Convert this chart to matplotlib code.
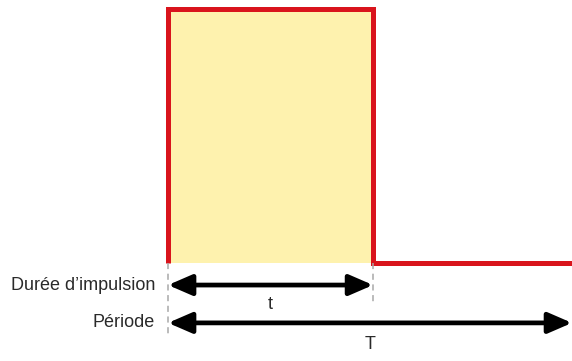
import matplotlib
matplotlib.use("Agg")
from matplotlib import pyplot as plt
from matplotlib import font_manager

# signal, in units of half the period
pulse = 1.015
period = 2.0
signal_x = [0, 0, pulse, pulse, period]
signal_y = [0, 1, 1, 0, 0]

labels = ["Durée d\u2019impulsion", "Période"]
arrow_labels = ["t", "T"]


def draw():
    names = {f.name for f in font_manager.fontManager.ttflist}
    fams = [n for n in ['Liberation Sans Narrow', 'DejaVu Sans Condensed'] if n in names]
    size = 14 if fams else 13
    plt.rcParams['font.family'] = fams + ['Liberation Sans', 'DejaVu Sans']

    fig = plt.figure(figsize=(5.72, 3.61), dpi=100)
    ax = fig.add_axes([0, 0, 1, 1])
    ax.set_xlim(-0.832, 2.0)
    ax.set_ylim(-0.386, 1.035)
    ax.axis("off")

    ax.fill_between([0, pulse], 0, 1, color="#fef2ae", lw=0)
    ax.plot(signal_x, signal_y, color="#d9141c", lw=3.6,
            solid_joinstyle="miter", solid_capstyle="butt")

    ax.plot([0, 0], [0, -0.285], color="#a8a8a8", lw=1.1, ls=(0, (4, 3)))
    ax.plot([pulse, pulse], [0, -0.165], color="#a8a8a8", lw=1.1, ls=(0, (4, 3)))

    rows = [(-0.087, pulse, -0.165), (-0.236, period, -0.323)]
    for (y, end, ty), lab, al in zip(rows, labels, arrow_labels):
        ax.annotate("", xy=(end, y), xytext=(0, y),
                    arrowprops=dict(arrowstyle="<|-|>,head_length=0.6,head_width=0.26",
                                    color="black", lw=3.4,
                                    mutation_scale=24, shrinkA=0, shrinkB=0))
        ax.text(-0.064, y, lab, ha="right", va="center", fontsize=size, color="#2a2a2a")
        ax.text(end / 2, ty, al, ha="center", va="center", fontsize=size, color="#2a2a2a")

    fig.savefig("out.png", dpi=100)


if __name__ == "__main__":
    draw()
